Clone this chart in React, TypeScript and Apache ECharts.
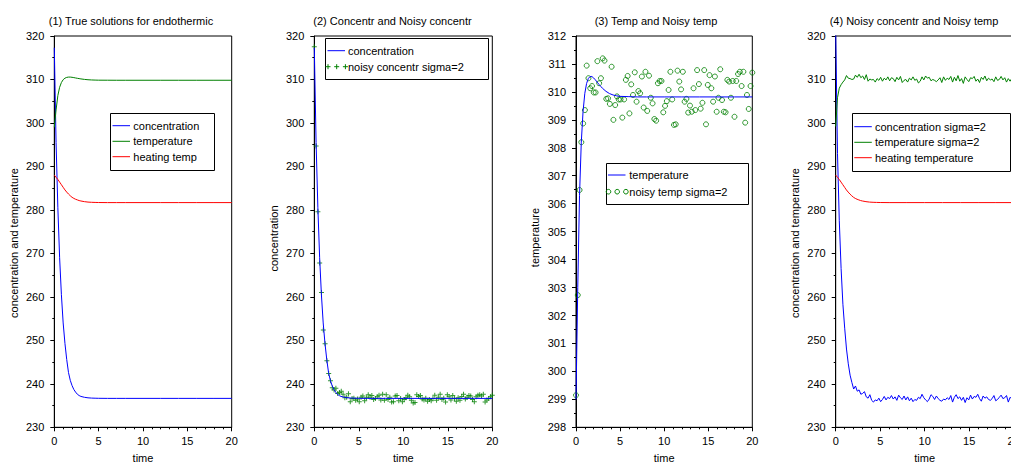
import React, { useEffect, useRef } from "react";
import * as echarts from "echarts";

// Sampling grid of the simulated/noisy runs: 100 samples over 0..20
const N_SAMPLES = 100;
const T_END = 20;
const sampleTime = Array.from({ length: N_SAMPLES }, (_, i) => (i * T_END) / (N_SAMPLES - 1));

// Time points of the smooth (true) solutions
const trueTime = [0, 0.2, 0.4, 0.6, 0.8, 1, 1.2, 1.4, 1.6, 1.8, 2, 2.2, 2.4, 2.6, 2.8, 3, 3.4, 3.8, 4.2, 4.6, 5, 6, 7, 8, 10, 12, 14, 16, 18, 20];

const concTrue = [317.3, 295.5, 280.5, 269.0, 260.5, 254.0, 249.3, 245.6, 242.6, 240.8, 239.6, 238.7, 238.1, 237.6, 237.3, 237.1, 236.9, 236.78, 236.72, 236.69, 236.67, 236.65, 236.65, 236.65, 236.65, 236.65, 236.65, 236.65, 236.65, 236.65];
const tempTrue = [299.0, 303.0, 306.3, 308.2, 309.3, 309.95, 310.3, 310.48, 310.55, 310.55, 310.5, 310.43, 310.35, 310.27, 310.2, 310.13, 310.02, 309.94, 309.89, 309.86, 309.84, 309.83, 309.82, 309.82, 309.82, 309.82, 309.82, 309.82, 309.82, 309.82];
const heatTrue = [288.0, 287.5, 287.0, 286.4, 285.8, 285.2, 284.6, 284.1, 283.65, 283.25, 282.9, 282.65, 282.45, 282.3, 282.15, 282.05, 281.9, 281.8, 281.75, 281.72, 281.7, 281.68, 281.68, 281.68, 281.68, 281.68, 281.68, 281.68, 281.68, 281.68];

// Noisy concentration samples (panel 2)
const noisyConc = [
  317.5, 294.7, 279.6, 267.8, 261.0, 252.4, 249.2, 245.3, 242.4, 240.7,
  239.1, 238.6, 239.0, 237.8, 238.0, 238.3, 237.6, 236.8, 236.9, 237.7,
  235.9, 236.6, 236.7, 236.2, 236.5, 235.9, 236.9, 237.2, 236.1, 236.8,
  237.5, 236.9, 237.3, 236.4, 236.6, 237.0, 237.4, 236.3, 237.6, 236.2,
  237.5, 236.4, 236.9, 235.8, 235.9, 237.2, 237.3, 236.1, 236.6, 235.9,
  236.4, 236.8, 237.4, 237.0, 236.2, 235.6, 235.7, 237.5, 237.1, 237.3,
  236.5, 236.3, 236.7, 236.0, 236.4, 236.1, 236.6, 237.4, 236.2, 236.9,
  237.6, 236.4, 236.7, 235.8, 237.5, 237.0, 236.3, 237.3, 236.6, 236.0,
  236.8, 236.2, 237.1, 237.6, 236.5, 236.9, 237.3, 237.2, 236.4, 235.9,
  237.0, 237.4, 237.5, 237.2, 237.6, 235.8, 236.3, 236.6, 237.0, 237.4,
];

// Noisy temperature samples (panel 3)
const noisyTemp = [
  299.15, 302.73, 306.49, 308.2, 308.87, 309.35, 310.94, 310.49, 310.13, 310.21,
  309.98, 309.98, 311.1, 310.31, 310.49, 311.2, 311.12, 309.75, 309.77, 309.57,
  310.9, 309.0, 309.53, 309.84, 309.73, 309.73, 309.08, 309.73, 310.43, 310.57,
  309.23, 310.27, 309.89, 310.7, 309.65, 310.03, 309.95, 310.55, 309.44, 310.72,
  309.32, 310.58, 309.79, 309.59, 309.03, 308.97, 310.31, 310.39, 310.39, 309.27,
  309.5, 309.67, 310.07, 310.72, 309.73, 308.82, 308.84, 310.76, 310.37, 310.09,
  310.72, 309.65, 309.75, 309.26, 309.51, 309.29, 310.13, 309.35, 310.78, 310.28,
  309.4, 309.61, 310.78, 308.84, 310.25, 310.6, 310.13, 309.65, 310.55, 309.29,
  309.79, 310.81, 309.71, 309.29, 309.27, 310.43, 310.37, 309.79, 310.39, 309.11,
  310.39, 310.64, 310.72, 310.21, 310.72, 308.9, 309.89, 309.39, 310.21, 310.69,
];

// Second noisy run (panel 4)
const noisyConc2 = [
  320.8, 293.0, 277.5, 266.5, 258.3, 252.8, 248.0, 244.6, 242.0, 240.3,
  238.8, 239.5, 238.3, 238.6, 237.6, 237.8, 238.2, 237.0, 236.7, 237.5,
  236.2, 235.8, 236.3, 236.1, 236.7, 235.9, 236.4, 237.1, 236.3, 236.9,
  236.6, 237.3, 236.5, 237.0, 236.2, 237.4, 236.8, 236.4, 237.2, 236.3,
  237.0, 236.1, 236.7, 235.9, 236.4, 236.2, 236.9, 236.6, 237.6, 236.8,
  236.3, 235.9, 236.5, 237.5, 237.1, 236.4, 237.2, 236.6, 236.2, 236.0,
  236.5, 236.3, 236.8, 236.4, 237.3, 235.8, 236.9, 237.5, 236.6, 237.0,
  236.2, 236.9, 235.7, 236.8, 236.3, 237.4, 236.5, 237.1, 236.9, 237.6,
  236.6, 236.0, 237.2, 236.7, 237.0, 236.4, 236.2, 236.6, 237.3, 236.1,
  236.4, 236.9, 237.4, 236.6, 236.8, 237.3, 235.8, 236.9, 236.5, 236.7,
];
const noisyTemp2 = [
  299.2, 305.8, 308.0, 308.8, 309.4, 309.9, 310.9, 310.3, 310.2, 310.0,
  310.1, 311.0, 310.5, 311.2, 310.4, 310.8, 310.0, 311.1, 309.6, 310.1,
  309.9, 310.0, 309.4, 310.2, 309.8, 310.5, 309.6, 310.3, 309.9, 310.6,
  309.7, 310.4, 310.2, 309.5, 310.5, 309.9, 310.7, 309.3, 309.8, 310.0,
  309.4, 310.3, 309.9, 310.6, 309.8, 310.1, 309.2, 309.6, 310.6, 309.9,
  310.8, 310.3, 310.5, 309.7, 310.0, 309.8, 309.5, 309.9, 310.4, 309.3,
  310.6, 309.8, 310.3, 310.0, 310.7, 309.4, 310.5, 309.7, 310.9, 309.6,
  310.2, 309.1, 310.6, 310.0, 309.5, 310.4, 310.2, 310.7, 309.6, 310.1,
  309.3, 310.5, 310.0, 310.8, 309.7, 310.3, 309.9, 310.1, 309.5, 310.6,
  309.8, 310.0, 310.7, 309.9, 310.4, 309.4, 310.2, 309.6, 310.3, 309.9,
];

const titles = [
  "(1) True solutions for endothermic",
  "(2) Concentr and Noisy concentr",
  "(3) Temp and Noisy temp",
  "(4) Noisy concentr and Noisy temp",
];
const yNames = ["concentration and temperature", "concentration", "temperature", "concentration and temperature"];
const yRanges = [
  { min: 230, max: 320, interval: 10 },
  { min: 230, max: 320, interval: 10 },
  { min: 298, max: 312, interval: 1 },
  { min: 230, max: 320, interval: 10 },
];

const BLUE = "#0000ff";
const GREEN = "#008000";
const RED = "#ff0000";
const FONT = '"Liberation Sans", Arial, Helvetica, sans-serif';
const FS = 11;

const PLUS = "path://M-0.5,-2.5L0.5,-2.5L0.5,-0.5L2.5,-0.5L2.5,0.5L0.5,0.5L0.5,2.5L-0.5,2.5L-0.5,0.5L-2.5,0.5L-2.5,-0.5L-0.5,-0.5Z";

const zip = (xs: number[], ys: number[]) => ys.map((y, i) => [xs[i], y]);

// Panel layout (pixels)
const panels = [
  { left: 54.3, width: 177.4, title: 131, yName: [14, 243] },
  { left: 314.3, width: 178, title: 392.5, yName: [274, 238.5] },
  { left: 576, width: 176.3, title: 656, yName: [535, 237.5] },
  { left: 835.7, width: 178, title: 914, yName: [795, 243] },
];
const TOP = 36;
const HEIGHT = 391.3;

type Row = { kind: "line" | "plus" | "circle"; color: string; label: string };

function legendBox(x: number, y: number, w: number, h: number, rows: Row[], rowY: number[], markX: number, textX: number) {
  const els: any[] = [
    {
      type: "rect",
      shape: { x: Math.round(x) + 0.5, y: Math.round(y) + 0.5, width: Math.round(w), height: Math.round(h) },
      style: { fill: "#fff", stroke: "#000", lineWidth: 1 },
    },
  ];
  rows.forEach((r, i) => {
    const cy = rowY[i];
    if (r.kind === "line") {
      els.push({
        type: "line",
        shape: { x1: markX, y1: cy, x2: markX + 17.5, y2: cy },
        style: { stroke: r.color, lineWidth: 1 },
      });
    } else {
      [0, 8.7, 17.4].forEach((dx) => {
        const cx = markX + 0.5 + dx;
        if (r.kind === "plus") {
          els.push({ type: "line", shape: { x1: cx - 2.5, y1: cy, x2: cx + 2.5, y2: cy }, style: { stroke: r.color, lineWidth: 1 } });
          els.push({ type: "line", shape: { x1: cx, y1: cy - 2.5, x2: cx, y2: cy + 2.5 }, style: { stroke: r.color, lineWidth: 1 } });
        } else {
          els.push({ type: "circle", shape: { cx, cy, r: 2.3 }, style: { fill: "none", stroke: r.color, lineWidth: 1 } });
        }
      });
    }
    els.push({
      type: "text",
      x: textX,
      y: cy,
      style: { text: r.label, fill: "#000", fontSize: FS, fontFamily: FONT, align: "left", verticalAlign: "middle" },
    });
  });
  return els;
}

export default function App() {
  const ref = useRef<HTMLDivElement>(null);

  useEffect(() => {
    if (!ref.current) return;
    const chart = echarts.init(ref.current, null, { renderer: "svg" });

    const grid = panels.map((p) => ({
      left: p.left,
      top: TOP,
      width: p.width,
      height: HEIGHT,
      outerBoundsMode: "none",
      containLabel: false,
      show: true,
      borderColor: "#000",
      borderWidth: 1,
      backgroundColor: "transparent",
    }));

    const axisCommon = {
      axisLine: { show: true, onZero: false, lineStyle: { color: "#000", width: 1 } },
      axisTick: { show: true, length: 4, lineStyle: { color: "#000", width: 1 } },
      splitLine: { show: false },
      minorSplitLine: { show: false },
      axisLabel: { color: "#000", fontSize: FS, fontFamily: FONT },
    };

    const xAxis = panels.map((_, i) => ({
      ...axisCommon,
      type: "value",
      gridIndex: i,
      min: 0,
      max: 20,
      interval: 5,
      minorTick: { show: true, splitNumber: 5, length: 2, lineStyle: { color: "#000", width: 1 } },
      axisLabel: { ...axisCommon.axisLabel, margin: 8 },
      name: "time",
      nameLocation: "middle",
      nameGap: 25,
      nameTextStyle: { color: "#000", fontSize: FS, fontFamily: FONT },
    }));

    const yAxis = panels.map((_, i) => ({
      ...axisCommon,
      type: "value",
      gridIndex: i,
      ...yRanges[i],
      minorTick: { show: true, splitNumber: 2, length: 2, lineStyle: { color: "#000", width: 1 } },
      axisLabel: { ...axisCommon.axisLabel, margin: 10 },
    }));

    const line = (name: string, data: number[][], color: string, idx: number) => ({
      name,
      type: "line",
      xAxisIndex: idx,
      yAxisIndex: idx,
      data,
      showSymbol: false,
      symbol: "none",
      clip: true,
      lineStyle: { color, width: 1 },
      itemStyle: { color },
    });

    const series: any[] = [
      line("concentration", zip(trueTime, concTrue), BLUE, 0),
      line("temperature", zip(trueTime, tempTrue), GREEN, 0),
      line("heating temp", zip(trueTime, heatTrue), RED, 0),

      line("concentration", zip(trueTime, concTrue), BLUE, 1),
      {
        name: "noisy concentr sigma=2",
        type: "scatter",
        xAxisIndex: 1,
        yAxisIndex: 1,
        data: zip(sampleTime, noisyConc),
        symbol: PLUS,
        symbolSize: 5,
        clip: true,
        itemStyle: { color: GREEN },
      },

      line("temperature", zip(trueTime, tempTrue), BLUE, 2),
      {
        name: "noisy temp sigma=2",
        type: "scatter",
        xAxisIndex: 2,
        yAxisIndex: 2,
        data: zip(sampleTime, noisyTemp),
        symbol: "circle",
        symbolSize: 5,
        clip: true,
        itemStyle: { color: "rgba(255,255,255,0)", borderColor: GREEN, borderWidth: 1 },
      },

      line("concentration sigma=2", zip(sampleTime, noisyConc2), BLUE, 3),
      line("temperature sigma=2", zip(sampleTime, noisyTemp2), GREEN, 3),
      line("heating temperature", zip(trueTime, heatTrue), RED, 3),
    ];

    const graphic: any[] = [];
    panels.forEach((p, i) => {
      graphic.push({
        type: "text",
        x: p.title,
        y: 21,
        style: { text: titles[i], fill: "#000", fontSize: FS, fontFamily: FONT, align: "center", verticalAlign: "middle" },
      });
      graphic.push({
        type: "text",
        x: p.yName[0],
        y: p.yName[1],
        rotation: Math.PI / 2,
        style: { text: yNames[i], fill: "#000", fontSize: FS, fontFamily: FONT, align: "center", verticalAlign: "middle" },
      });
    });

    graphic.push(
      ...legendBox(110, 113.3, 104.3, 56.7,
        [
          { kind: "line", color: BLUE, label: "concentration" },
          { kind: "line", color: GREEN, label: "temperature" },
          { kind: "line", color: RED, label: "heating temp" },
        ],
        [125.7, 141.3, 156.7], 112.5, 133.3)
    );
    graphic.push(
      ...legendBox(325, 38.3, 162.7, 41,
        [
          { kind: "line", color: BLUE, label: "concentration" },
          { kind: "plus", color: GREEN, label: "noisy concentr sigma=2" },
        ],
        [50.7, 66.7], 327.5, 347.9)
    );
    graphic.push(
      ...legendBox(606, 163.3, 141.7, 40.7,
        [
          { kind: "line", color: BLUE, label: "temperature" },
          { kind: "circle", color: GREEN, label: "noisy temp sigma=2" },
        ],
        [175, 191.7], 608, 629.3)
    );
    graphic.push(
      ...legendBox(851.7, 113.3, 158.3, 57.7,
        [
          { kind: "line", color: BLUE, label: "concentration sigma=2" },
          { kind: "line", color: GREEN, label: "temperature sigma=2" },
          { kind: "line", color: RED, label: "heating temperature" },
        ],
        [126.7, 142.3, 157.7], 854.3, 875)
    );

    chart.setOption({
      animation: false,
      backgroundColor: "#fff",
      textStyle: { fontFamily: FONT },
      grid,
      xAxis,
      yAxis,
      series,
      graphic: { elements: graphic.map((g) => ({ ...g, z: 100 })) },
    });

    return () => chart.dispose();
  }, []);

  return (
    <div style={{ position: "fixed", left: 0, top: 0, width: 1011, height: 463, overflow: "hidden", background: "#fff" }}>
      <div ref={ref} style={{ width: 1011, height: 463 }} />
    </div>
  );
}
